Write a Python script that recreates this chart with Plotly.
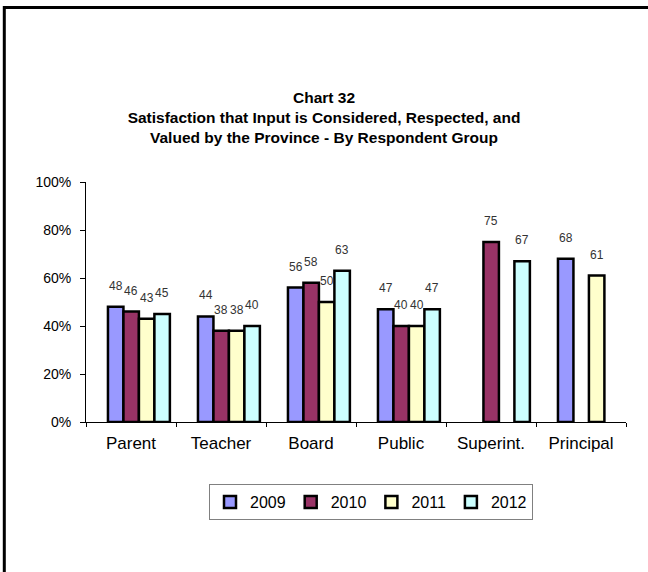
import plotly.graph_objects as go

categories = ["Parent", "Teacher", "Board", "Public", "Superint.", "Principal"]
years = ["2009", "2010", "2011", "2012"]
v2009 = [48, 44, 56, 47, None, 68]
v2010 = [46, 38, 58, 40, 75, None]
v2011 = [43, 38, 50, 40, None, 61]
v2012 = [45, 40, 63, 47, 67, None]
series = [v2009, v2010, v2011, v2012]
colors = ["#9999FF", "#993366", "#FFFFCC", "#CCFFFF"]

ytick_vals = [0, 20, 40, 60, 80, 100]
ytick_text = ["0%", "20%", "40%", "60%", "80%", "100%"]

# layout geometry (pixels)
W, H = 648, 572
L, R, T, B = 86, 22, 182, 150
pw, ph = W - L - R, H - T - B
cat_px = pw / len(categories)

bar_w = 0.172
first_off = -0.256

fig = go.Figure()
annotations = []
for i, (yr, vals, col) in enumerate(zip(years, series, colors)):
    off = first_off + i * bar_w
    fig.add_trace(go.Bar(
        x=categories, y=vals, name=yr,
        width=bar_w, offset=off,
        marker=dict(color=col, line=dict(color="black", width=2.5)),
    ))
    for c, v in zip(categories, vals):
        if v is None:
            continue
        annotations.append(dict(
            x=c, y=v, xref="x", yref="y", text=str(v), showarrow=False,
            xshift=(off + bar_w / 2) * cat_px, yshift=21,
            font=dict(family="Liberation Sans Narrow, Arial Narrow, Liberation Sans", size=12, color="#333333"),
        ))

def px_x(p):
    return (p - L) / pw

def px_y(p):
    return (H - B - p) / ph

shapes = [dict(
    type="path", xref="paper", yref="paper",
    path=f"M {px_x(4.3)} {px_y(580)} L {px_x(4.3)} {px_y(7.5)} L {px_x(660)} {px_y(7.5)}",
    line=dict(color="black", width=3),
)]

fig.update_layout(
    width=W, height=H,
    margin=dict(l=L, r=R, t=T, b=B, pad=0),
    paper_bgcolor="white", plot_bgcolor="white",
    barmode="overlay",
    font=dict(family="Liberation Sans, Arial", color="black"),
    title=dict(
        text="Chart 32<br>Satisfaction that Input is Considered, Respected, and<br>Valued by the Province - By Respondent Group",
        x=0.5, xanchor="center", xref="container", yref="container",
        y=1 - 103 / H, yanchor="middle",
        font=dict(family="Liberation Sans, Arial", size=15.5, color="black", weight="bold"),
    ),
    xaxis=dict(
        type="category", range=[-0.5, 5.5], showline=True, linecolor="black", linewidth=1,
        ticks="outside", ticklen=4, tickcolor="black", tickson="boundaries",
        tickfont=dict(size=17, color="black"), showgrid=False, zeroline=False,
        ticklabelstandoff=6,
    ),
    yaxis=dict(
        range=[0, 100], tickvals=ytick_vals, ticktext=ytick_text,
        showline=True, linecolor="black", linewidth=1,
        ticks="outside", ticklen=5, tickcolor="black",
        tickfont=dict(size=14, color="black"), showgrid=False, zeroline=False,
        ticklabelstandoff=6,
    ),
    legend=dict(
        orientation="h", x=px_x(371), xanchor="center", y=px_y(484), yanchor="top",
        bordercolor="#808080", borderwidth=1, font=dict(size=16),
        itemwidth=30,
    ),
    annotations=annotations,
    shapes=shapes,
    showlegend=True,
)

fig.write_html("out.html", config={"displayModeBar": False},
               post_script="document.body.style.margin='0';")
